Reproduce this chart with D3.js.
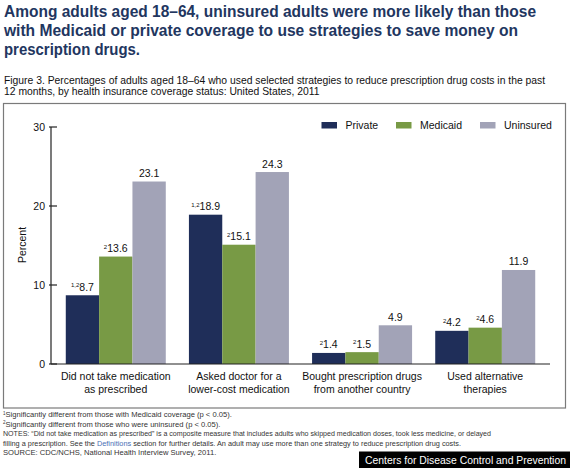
<!DOCTYPE html>
<html><head><meta charset="utf-8">
<script src="https://cdn.jsdelivr.net/npm/d3@7"></script>
<style>
body{margin:0;background:#fff;}
svg{display:block;font-family:"Liberation Sans",Arial,sans-serif;}
</style></head>
<body>
<svg id="c" width="570" height="468"></svg>
<script>
const categories = [["Did not take medication","as prescribed"],["Asked doctor for a","lower-cost medication"],["Bought prescription drugs","from another country"],["Used alternative","therapies"]];
const seriesNames = ["Private","Medicaid","Uninsured"];
const privateVals = [8.7, 18.9, 1.4, 4.2];
const medicaidVals = [13.6, 15.1, 1.5, 4.6];
const uninsuredVals = [23.1, 24.3, 4.9, 11.9];
const privateSup = ["1,2","1,2","2","2"];
const medicaidSup = ["2","2","2","2"];
const uninsuredSup = ["","","",""];
const yTicks = [0, 10, 20, 30];
const colors = ["#1f2e59","#789a45","#a2a3b7"];

const titleLines = ["Among adults aged 18\u201364, uninsured adults were more likely than those","with Medicaid or private coverage to use strategies to save money on","prescription drugs."];
const titleWidths = [532, 514, 136];
const subtitleLines = ["Figure 3. Percentages of adults aged 18\u201364 who used selected strategies to reduce prescription drug costs in the past","12 months, by health insurance coverage status: United States, 2011"];

const svg = d3.select("#c");

// title
svg.append("g").selectAll("text").data(titleLines).join("text")
  .attr("x", 4).attr("y", (d,i)=>17+i*19.2)
  .attr("font-size", 16).attr("font-weight", "bold").attr("fill", "#22365f")
  .attr("textLength", (d,i)=>titleWidths[i]).attr("lengthAdjust","spacingAndGlyphs")
  .text(d=>d);
svg.append("g").selectAll("text").data(subtitleLines).join("text")
  .attr("x", 4).attr("y", (d,i)=>84+i*11)
  .attr("font-size", 10.35).attr("fill", "#111")
  .text(d=>d);

// box
svg.append("rect").attr("x",3.5).attr("y",103.5).attr("width",562).attr("height",304.5)
  .attr("fill","none").attr("stroke","#7a7a7a").attr("stroke-width",1.2);

const y = d3.scaleLinear().domain([0,30]).range([364,127]);
const x0 = d3.scaleBand().domain(d3.range(categories.length)).range([51,550]).paddingInner(0.188).paddingOuter(0.12);
const x1 = d3.scaleBand().domain(seriesNames).range([0, x0.bandwidth()]).padding(0);

const data = categories.map((c,i)=>({i, vals:[
  {s:"Private", v:privateVals[i], sup:privateSup[i]},
  {s:"Medicaid", v:medicaidVals[i], sup:medicaidSup[i]},
  {s:"Uninsured", v:uninsuredVals[i], sup:uninsuredSup[i]}]}));

const groups = svg.append("g").selectAll("g").data(data).join("g")
  .attr("transform", d=>`translate(${x0(d.i)},0)`);
groups.selectAll("rect").data(d=>d.vals).join("rect")
  .attr("x", d=>x1(d.s)).attr("width", x1.bandwidth())
  .attr("y", d=>y(d.v)).attr("height", d=>y(0)-y(d.v))
  .attr("fill", (d,i)=>colors[i]);
const lab = groups.selectAll("text.v").data(d=>d.vals).join("text").attr("class","v")
  .attr("x", d=>x1(d.s)+x1.bandwidth()/2).attr("y", d=>y(d.v)-4.5)
  .attr("text-anchor","middle").attr("font-size",10.5).attr("fill","#111");
lab.append("tspan").attr("font-size",6).attr("dy",-3.5).text(d=>d.sup);
lab.append("tspan").attr("dy", d=>d.sup?3.5:0).text(d=>d.v.toFixed(1));

// axes
const yAxis = d3.axisLeft(y).tickValues(yTicks).tickSize(0).tickPadding(6);
const gy = svg.append("g").attr("transform","translate(51,0)").call(yAxis);
gy.select(".domain").remove();
gy.selectAll("text").attr("font-size",10.5).attr("fill","#111").attr("font-family","Liberation Sans, Arial, sans-serif");
svg.append("line").attr("x1",51).attr("x2",51).attr("y1",y(30)).attr("y2",y(0)).attr("stroke","#222").attr("stroke-width",1.2);
svg.append("g").selectAll("line").data(yTicks).join("line")
  .attr("x1",49).attr("x2",57).attr("y1",d=>y(d)).attr("y2",d=>y(d)).attr("stroke","#222").attr("stroke-width",1.2);
svg.append("line").attr("x1",51).attr("x2",550).attr("y1",y(0)).attr("y2",y(0)).attr("stroke","#222").attr("stroke-width",1.2);

svg.append("text").attr("transform","translate(26,245) rotate(-90)").attr("text-anchor","middle")
  .attr("font-size",10.5).attr("fill","#111").text("Percent");

// category labels
svg.append("g").selectAll("text").data(categories).join("text")
  .attr("x",(d,i)=>x0(i)+x0.bandwidth()/2).attr("y",380)
  .attr("text-anchor","middle").attr("font-size",10.5).attr("fill","#111")
  .selectAll("tspan").data(d=>d).join("tspan")
  .attr("x",function(){return this.parentNode.getAttribute("x");}).attr("dy",(d,i)=>i?13:0).text(d=>d);

// legend
const legX = [321.5, 396, 480];
const leg = svg.append("g").selectAll("g").data(seriesNames).join("g")
  .attr("transform",(d,i)=>`translate(${legX[i]},122)`);
leg.append("rect").attr("width",15.5).attr("height",6.5).attr("fill",(d,i)=>colors[i]);
leg.append("text").attr("x",24).attr("y",6.5).attr("font-size",10.5).attr("fill","#111").text(d=>d);

// footnotes
const foot = svg.append("g").attr("font-size",7.6).attr("fill","#333");
const f1 = foot.append("text").attr("x",3).attr("y",417);
f1.append("tspan").attr("font-size",4.5).attr("dy",-2.5).text("1");
f1.append("tspan").attr("dy",2.5).text("Significantly different from those with Medicaid coverage (p < 0.05).");
const f2 = foot.append("text").attr("x",3).attr("y",426.5);
f2.append("tspan").attr("font-size",4.5).attr("dy",-2.5).text("2");
f2.append("tspan").attr("dy",2.5).text("Significantly different from those who were uninsured (p < 0.05).");
foot.append("text").attr("x",3).attr("y",436).attr("textLength",488).attr("lengthAdjust","spacingAndGlyphs")
  .text("NOTES: \u201cDid not take medication as prescribed\u201d is a composite measure that includes adults who skipped medication doses, took less medicine, or delayed");
const f4 = foot.append("text").attr("x",3).attr("y",445.5).attr("textLength",458).attr("lengthAdjust","spacingAndGlyphs");
f4.append("tspan").text("filling a prescription. See the ");
f4.append("tspan").attr("fill","#4a6fb5").text("Definitions");
f4.append("tspan").text(" section for further details. An adult may use more than one strategy to reduce prescription drug costs.");
foot.append("text").attr("x",3).attr("y",455).text("SOURCE: CDC/NCHS, National Health Interview Survey, 2011.");

// banner
svg.append("rect").attr("x",359).attr("y",451.5).attr("width",211).attr("height",16.5).attr("fill","#000");
svg.append("text").attr("x",365).attr("y",463.5).attr("font-size",10.4).attr("fill","#fff")
  .text("Centers for Disease Control and Prevention");
</script>
</body></html>
